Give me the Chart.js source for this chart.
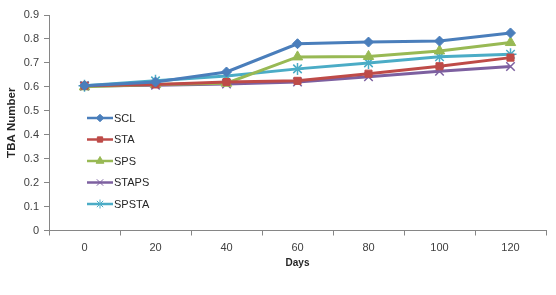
<!DOCTYPE html>
<html><head><meta charset="utf-8">
<script src="https://cdn.jsdelivr.net/npm/chart.js@4/dist/chart.umd.min.js"></script>
<style>html,body{margin:0;padding:0;background:#fff}#wrap{width:556px;height:295px}</style>
</head><body><div id="wrap"><canvas id="c" width="556" height="295"></canvas></div>
<script>
const days = ['0','20','40','60','80','100','120'];
const SCL   = [0.605,0.620,0.662,0.780,0.787,0.791,0.825];
const STA   = [0.605,0.610,0.620,0.625,0.655,0.686,0.722];
const SPS   = [0.600,0.610,0.615,0.725,0.727,0.750,0.785];
const STAPS = [0.603,0.607,0.612,0.620,0.642,0.665,0.685];
const SPSTA = [0.605,0.625,0.645,0.675,0.700,0.726,0.736];
const yTicks = [0,0.1,0.2,0.3,0.4,0.5,0.6,0.7,0.8,0.9];

const FONT = "'Liberation Sans', Arial, sans-serif";
function ds(label, data, color, style, r){
  return {label, data, borderColor: color, backgroundColor: color, pointStyle: style,
    pointRadius: r, pointHoverRadius: r, borderWidth: 3, pointBorderWidth: style==='crossRot'||style==='star'?1.5:1,
    tension: 0};
}
const datasets = [
  ds('SCL', SCL, '#4A7EBB', 'rectRot', 5),
  ds('STA', STA, '#BE4B48', 'rect', 5),
  ds('SPS', SPS, '#98B954', 'triangle', 6),
  ds('STAPS', STAPS, '#7D60A0', 'crossRot', 6),
  ds('SPSTA', SPSTA, '#4BACC6', 'star', 6)
];

const legendPlugin = {
  id: 'inLegend',
  afterDatasetsDraw(chart){
    const ctx = chart.ctx;
    const x0 = 87, x1 = 113, y0 = 118, dy = 21.5;
    chart.data.datasets.forEach((d, i) => {
      const y = y0 + i*dy;
      ctx.save();
      ctx.strokeStyle = d.borderColor; ctx.lineWidth = 2.5;
      ctx.beginPath(); ctx.moveTo(x0, y); ctx.lineTo(x1, y); ctx.stroke();
      ctx.fillStyle = d.backgroundColor; ctx.strokeStyle = d.borderColor;
      ctx.lineWidth = 1;
      Chart.helpers.drawPoint(ctx, {pointStyle: d.pointStyle, radius: d.pointRadius*0.75, borderWidth: 1}, (x0+x1)/2, y);
      ctx.fillStyle = '#262626';
      ctx.font = '11px ' + FONT;
      ctx.textBaseline = 'middle'; ctx.textAlign = 'left';
      ctx.fillText(d.label, x1 + 1, y + 0.5);
      ctx.restore();
    });
  }
};

new Chart(document.getElementById('c'), {
  type: 'line',
  data: { labels: days, datasets },
  options: {
    responsive: false, animation: false,
    layout: { padding: { left: 0, right: 10, top: 15, bottom: 26 } },
    plugins: { legend: { display: false }, tooltip: { enabled: false } },
    scales: {
      x: {
        offset: true,
        grid: { display: true, drawOnChartArea: false, offset: true, color: '#868686', tickLength: 5, tickColor: '#868686' },
        border: { color: '#868686', width: 1 },
        ticks: { color: '#404040', font: { family: FONT, size: 11 }, padding: 6, maxRotation: 0 },
        title: { display: true, text: 'Days', color: '#262626', font: { family: FONT, size: 10, weight: 'bold' }, padding: { top: 0, bottom: 0 } },
        afterFit(s){ s.height = 38.5; }
      },
      y: {
        min: 0, max: 0.9,
        afterBuildTicks(s){ s.ticks = yTicks.map(v => ({ value: v })); },
        grid: { display: true, drawOnChartArea: false, color: '#868686', tickLength: 5, tickColor: '#868686' },
        border: { color: '#868686', width: 1 },
        ticks: { color: '#404040', font: { family: FONT, size: 11 }, padding: 5,
          callback: v => String(Math.round(v*10)/10) },
        title: { display: true, text: 'TBA Number', color: '#262626', font: { family: FONT, size: 11.5, weight: 'bold' }, padding: { top: 5, bottom: 2 } },
        afterFit(s){ s.width = 49; }
      }
    }
  },
  plugins: [legendPlugin]
});
</script>
</body></html>
